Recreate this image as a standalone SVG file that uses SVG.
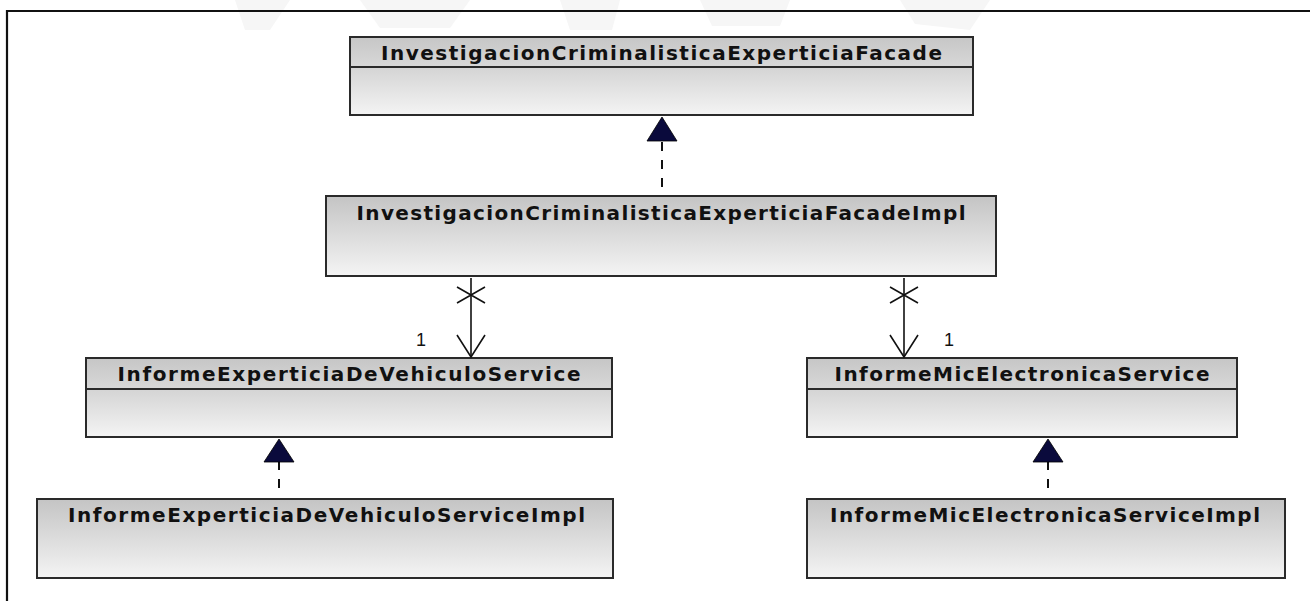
<svg xmlns="http://www.w3.org/2000/svg" width="1310" height="601" viewBox="0 0 1310 601">
  <defs>
    <linearGradient id="gHead" x1="0" y1="0" x2="0" y2="1">
      <stop offset="0" stop-color="#c6c6c6"/>
      <stop offset="1" stop-color="#d8d8d8"/>
    </linearGradient>
    <linearGradient id="gBody" x1="0" y1="0" x2="0" y2="1">
      <stop offset="0" stop-color="#d4d4d4"/>
      <stop offset="1" stop-color="#f4f4f4"/>
    </linearGradient>
    <linearGradient id="gFull" x1="0" y1="0" x2="0" y2="1">
      <stop offset="0" stop-color="#c4c4c4"/>
      <stop offset="1" stop-color="#f4f4f4"/>
    </linearGradient>
  </defs>
  <style>
    .box { stroke: #2a2a2a; stroke-width: 2; }
    .name { font-family: "DejaVu Sans", "Liberation Sans", sans-serif; font-weight: bold; font-size: 20px; fill: #111; text-anchor: middle; }
    .mult { font-family: "Liberation Sans", Arial, sans-serif; font-size: 18px; fill: #111; text-anchor: middle; }
    .dash { stroke: #111; stroke-width: 2; stroke-dasharray: 9 9; fill: none; }
    .assoc { stroke: #111; stroke-width: 1.6; fill: none; }
    .frame { stroke: #111; stroke-width: 2.2; fill: none; }
    .tri { fill: #0a0a3c; stroke: #000; stroke-width: 0.8; }
  </style>

  <rect x="0" y="0" width="1310" height="601" fill="#ffffff"/>

  <!-- faint watermark -->
  <g id="watermark" fill="#f6f6f6">
    <path d="M235 0 L290 0 L270 30 L245 30 Z"/>
    <path d="M360 0 L470 0 L450 28 L380 28 Z"/>
    <path d="M560 0 L620 0 L612 30 L570 30 Z"/>
    <path d="M700 0 L790 0 L780 26 L712 26 Z"/>
    <path d="M900 0 L990 0 L970 30 L915 24 Z"/>
  </g>

  <!-- frame -->
  <g id="frame">
    <path class="frame" d="M7 601 L7 11 L1310 11"/>
  </g>

  <g id="node-facade">
    <rect class="box" x="350" y="37" width="623" height="30" fill="url(#gHead)"/>
    <rect class="box" x="350" y="67" width="623" height="48" fill="url(#gBody)"/>
    <text class="name" x="661.5" y="60" textLength="561" lengthAdjust="spacing">InvestigacionCriminalisticaExperticiaFacade</text>
  </g>

  <g id="node-facade-impl">
    <rect class="box" x="326" y="196" width="670" height="80" fill="url(#gFull)"/>
    <text class="name" x="661" y="220" textLength="609" lengthAdjust="spacing">InvestigacionCriminalisticaExperticiaFacadeImpl</text>
  </g>

  <g id="node-vehiculo-service">
    <rect class="box" x="86" y="358" width="526" height="31" fill="url(#gHead)"/>
    <rect class="box" x="86" y="389" width="526" height="48" fill="url(#gBody)"/>
    <text class="name" x="349" y="381" textLength="463" lengthAdjust="spacing">InformeExperticiaDeVehiculoService</text>
  </g>

  <g id="node-mic-service">
    <rect class="box" x="807" y="358" width="430" height="31" fill="url(#gHead)"/>
    <rect class="box" x="807" y="389" width="430" height="48" fill="url(#gBody)"/>
    <text class="name" x="1022" y="381" textLength="375" lengthAdjust="spacing">InformeMicElectronicaService</text>
  </g>

  <g id="node-vehiculo-impl">
    <rect class="box" x="37" y="499" width="576" height="79" fill="url(#gFull)"/>
    <text class="name" x="326.5" y="522" textLength="517" lengthAdjust="spacing">InformeExperticiaDeVehiculoServiceImpl</text>
  </g>

  <g id="node-mic-impl">
    <rect class="box" x="807" y="499" width="478" height="79" fill="url(#gFull)"/>
    <text class="name" x="1045" y="522" textLength="430" lengthAdjust="spacing">InformeMicElectronicaServiceImpl</text>
  </g>

  <g id="connectors">
    <!-- realizations -->
    <path class="dash" d="M662 187 L662 141"/>
    <path class="tri" d="M662 117 L677 141 L647 141 Z"/>

    <path class="dash" d="M279 488 L279 462"/>
    <path class="tri" d="M279 439 L294 462 L264 462 Z"/>

    <path class="dash" d="M1048 488 L1048 462"/>
    <path class="tri" d="M1048 439 L1063 462 L1033 462 Z"/>

    <!-- associations -->
    <path class="assoc" d="M471 278 L471 357"/>
    <path class="assoc" d="M457 287 L485 303 M457 303 L485 287"/>
    <path class="assoc" d="M457 335 L471 357 L485 335"/>
    <text class="mult" x="421" y="346">1</text>

    <path class="assoc" d="M904 278 L904 357"/>
    <path class="assoc" d="M890 287 L918 303 M890 303 L918 287"/>
    <path class="assoc" d="M890 335 L904 357 L918 335"/>
    <text class="mult" x="949" y="346">1</text>
  </g>
</svg>
